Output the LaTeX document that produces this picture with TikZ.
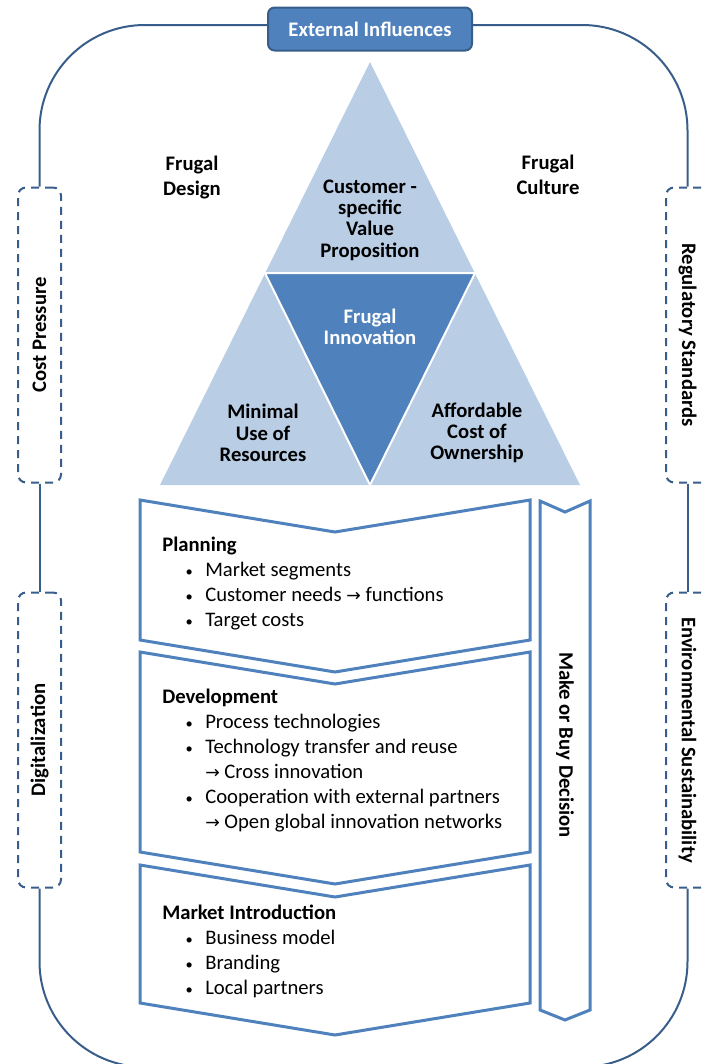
\documentclass[tikz,border=0pt]{standalone}
\usepackage{fontspec}
\setmainfont{Carlito}
\newfontfamily\arrowfont{DejaVu Sans}
\usepackage{tikz}

\definecolor{darkblue}{HTML}{4F81BD}
\definecolor{lightblue}{HTML}{B9CDE5}
\definecolor{edgeblue}{HTML}{385D8A}

\newcommand{\itm}[1]{\hspace*{17.5pt}\makebox[14.75pt][l]{\raisebox{0.5pt}{\scalebox{0.7}{•}}}#1}
\newcommand{\cnt}[1]{\hspace*{32.25pt}#1}
\newcommand{\ra}{{\arrowfont\fontsize{13}{13}\selectfont →}}

\begin{document}
\begin{tikzpicture}[x=0.75pt,y=-0.75pt,
  tritext/.style={font=\fontsize{15.5}{16}\selectfont\bfseries, align=center, inner sep=0pt},
  listtext/.style={font=\fontsize{15.5}{18.75}\selectfont, align=left, inner sep=0pt, anchor=north west},
  sidebox/.style={draw=edgeblue, line width=1.5pt, dash pattern=on 6pt off 4.5pt, rounded corners=6pt,
    minimum width=32.25pt, minimum height=221.25pt, font=\fontsize{15.5}{16}\selectfont\bfseries, inner sep=0pt},
  ring/.style={draw=edgeblue, line width=1.5pt},
  chevron/.style={draw=darkblue, line width=2.25pt, fill=white}]
\useasboundingbox (0,0) rectangle (701,1064);
\clip (0,0) rectangle (701,1064);

\fill[lightblue] (370,62) -- (580,485) -- (160,485) -- cycle;
\filldraw[fill=darkblue, draw=white, line width=1.5pt] (265,273) -- (475,273) -- (370,485) -- cycle;

\node[tritext, font=\fontsize{15.5}{18.75}\selectfont\bfseries] (design) at (192,177) {Frugal\\Design};
\node[tritext, font=\fontsize{15.5}{18.75}\selectfont\bfseries] (culture) at (548,175) {Frugal\\Culture};
\node[tritext] (value) at (370,220) {Customer -\\specific\\Value\\Proposition};
\node[tritext, text=white] (core) at (370,327) {Frugal\\Innovation};
\node[tritext] (resources) at (263,433) {Minimal\\Use of\\Resources};
\node[tritext] (cost) at (477,433) {Affordable\\Cost of\\Ownership};

\draw[chevron] (140,500) -- (335,532) -- (530,500) -- (530,640) -- (335,672) -- (140,640) -- cycle;
\draw[chevron] (140,652) -- (335,684) -- (530,652) -- (530,852) -- (335,884) -- (140,852) -- cycle;
\draw[chevron] (140,865) -- (335,897) -- (530,865) -- (530,1003) -- (335,1035) -- (140,1003) -- cycle;
\draw[chevron] (540,501) -- (565,512) -- (590,501) -- (590,1010) -- (565,1020) -- (540,1010) -- cycle;

\node[listtext] (planning) at (162,537) {\textbf{Planning}\\
  \itm{Market segments}\\
  \itm{Customer needs \ra{} functions}\\
  \itm{Target costs}};
\node[listtext] (development) at (162,689) {\textbf{Development}\\
  \itm{Process technologies}\\
  \itm{Technology transfer and reuse}\\
  \cnt{\ra{} Cross innovation}\\
  \itm{Cooperation with external partners}\\
  \cnt{\ra{} Open global innovation networks}};
\node[listtext] (market) at (162,905) {\textbf{Market Introduction}\\
  \itm{Business model}\\
  \itm{Branding}\\
  \itm{Local partners}};
\node[tritext, rotate=-90] (makebuy) at (565,745) {Make or Buy Decision};

\node[draw=edgeblue, fill=darkblue, line width=1.5pt, rounded corners=5pt, minimum width=153pt,
  minimum height=32.25pt, text=white, font=\fontsize{15.5}{16}\selectfont\bfseries] (ext) at (370,29) {External Influences};
\node[sidebox] (pressure) at (39.5,335) {\rotatebox{90}{Cost Pressure}};
\node[sidebox] (digital) at (39.5,740) {\rotatebox{90}{Digitalization}};
\node[sidebox] (regulatory) at (687.5,335) {\rotatebox{-90}{Regulatory Standards}};
\node[sidebox] (environment) at (687.5,740) {\rotatebox{-90}{Environmental Sustainability}};

\coordinate (bottomleft) at (39.5,1067);
\coordinate (bottomright) at (687.5,1067);

\draw[ring, rounded corners=79pt] ([yshift=3pt]ext.west) -| (pressure.north);
\draw[ring, rounded corners=79pt] ([yshift=3pt]ext.east) -| (regulatory.north);
\draw[ring] (pressure.south) -- (digital.north);
\draw[ring] (regulatory.south) -- (environment.north);
\draw[ring, rounded corners=79pt] (digital.south) -- (bottomleft) -- (bottomright) -- (environment.south);
\end{tikzpicture}
\end{document}
